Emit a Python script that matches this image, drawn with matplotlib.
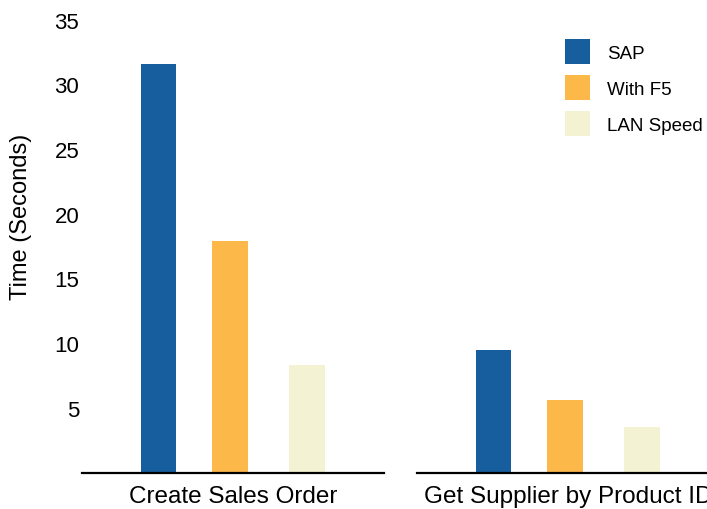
import matplotlib
matplotlib.use('Agg')
import matplotlib.pyplot as plt
from matplotlib.patches import Patch

categories = ["Create Sales Order", "Get Supplier by Product ID"]
series = ["SAP", "With F5", "LAN Speed"]
sap = [31.6, 9.5]
with_f5 = [17.9, 5.6]
lan_speed = [8.3, 3.5]
yticks = [5, 10, 15, 20, 25, 30, 35]
colors = ['#175E9E', '#FDB84A', '#F3F2D3']

plt.rcParams['font.family'] = ['Liberation Sans', 'DejaVu Sans']
W, H = 707, 510
fig = plt.figure(figsize=(W / 100, H / 100), dpi=100)
bottom = (H - 473.5) / H
axes = [fig.add_axes([82 / W, bottom, 302 / W, 1 - bottom]),
        fig.add_axes([417 / W, bottom, 302 / W, 1 - bottom])]
offsets = [-1.0, 0.0, 1.08]
values = [sap, with_f5, lan_speed]
for i, ax in enumerate(axes):
    for j, (vals, c, name) in enumerate(zip(values, colors, series)):
        ax.bar(offsets[j], vals[i], width=0.5, color=c, label=name)
    ax.set_xlim(-2.07, 2.154)
    ax.set_ylim(0, 36.6)
    ax.set_xticks([0.042])
    ax.set_xticklabels([categories[i]], fontsize=17.5)
    ax.tick_params(axis='x', length=0, pad=9)
    for s in ['top', 'right', 'left']:
        ax.spines[s].set_visible(False)
    ax.spines['bottom'].set_color('black')
    ax.spines['bottom'].set_linewidth(1.6)
    ax.set_facecolor('none')
    if i == 0:
        ax.set_yticks(yticks)
        ax.set_yticklabels([str(t) for t in yticks], fontsize=16)
        ax.tick_params(axis='y', length=0, pad=2)
    else:
        ax.set_yticks([])

fig.text(21 / W, 1 - 217 / H, "Time (Seconds)", rotation=90, ha='center', va='center', fontsize=17)

handles = [Patch(facecolor=c, edgecolor='none') for c in colors]
fig.legend(handles, series, loc='upper left', bbox_to_anchor=(565 / W, 1 - 40 / H),
           frameon=False, fontsize=13.5, handlelength=1.33, handleheight=1.66,
           labelspacing=0.6, handletextpad=0.9, borderpad=0, borderaxespad=0)

fig.savefig('out.png', dpi=100)
